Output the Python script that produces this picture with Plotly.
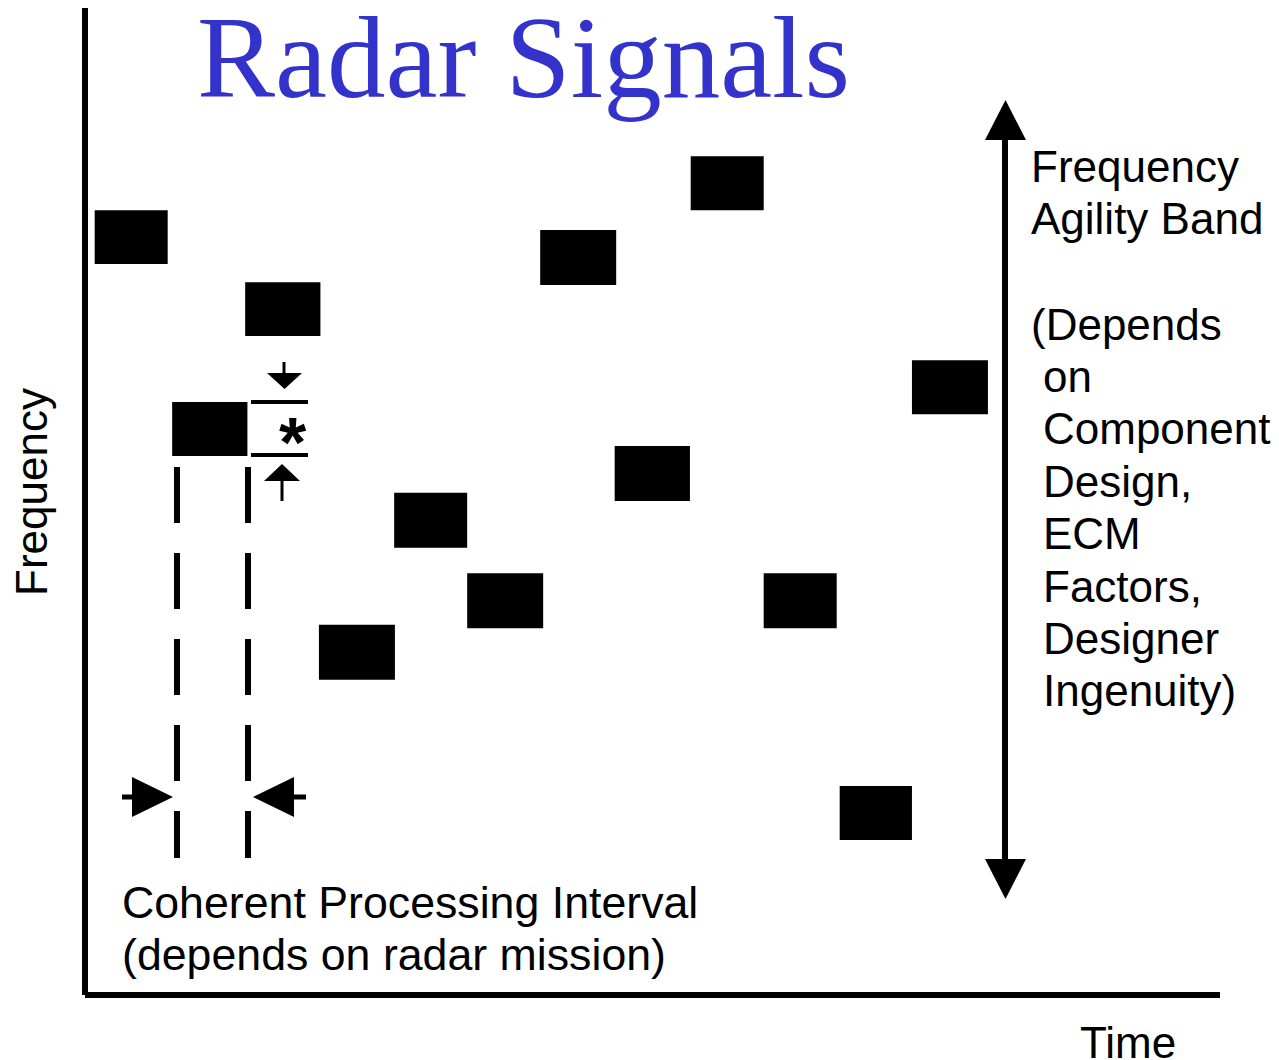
import plotly.graph_objects as go

# ---------------- data (time in pulse-width units, frequency in pulse-bandwidth units)
pulse_start = [0.13, 1.17, 2.15, 3.14, 4.15, 5.13, 6.11, 7.11, 8.13, 9.11, 10.13, 11.10]
pulse_duration = [0.98, 1.01, 1.01, 1.02, 0.98, 1.02, 1.02, 1.01, 0.98, 0.98, 0.97, 1.02]
pulse_freq_low = [13.29, 9.80, 11.98, 5.73, 8.13, 6.67, 12.91, 8.98, 14.27, 6.67, 2.82, 10.56]
pulse_bandwidth = [0.98, 0.98, 0.98, 1.0, 1.0, 1.0, 1.0, 1.0, 0.98, 1.0, 0.98, 0.98]

title_text = "Radar Signals"
x_label = "Time"
y_label = "Frequency"
band_label = ["Frequency", "Agility Band"]
band_note = ["(Depends", "on", "Component", "Design,", "ECM", "Factors,", "Designer", "Ingenuity)"]
cpi_label = ["Coherent Processing Interval", "(depends on radar mission)"]

# ---------------- layout geometry
W, H = 1279, 1060
T0_PX, PX_PER_T = 85.0, 74.5      # time origin (pixels) and pixels per time unit
F0_PX, PX_PER_F = 995.0, 55.0     # frequency origin (pixels) and pixels per freq unit


def X(px):
    return (px - T0_PX) / PX_PER_T


def Y(py):
    return (F0_PX - py) / PX_PER_F


BLACK = "#000000"
SANS = "Liberation Sans, Arial, sans-serif"

fig = go.Figure()

centers = [s + d / 2 for s, d in zip(pulse_start, pulse_duration)]
fig.add_trace(go.Bar(
    x=centers, y=pulse_bandwidth, base=pulse_freq_low, width=pulse_duration,
    marker=dict(color=BLACK, line=dict(width=0)), showlegend=False, hoverinfo="skip",
))

shapes = []


def line(x0, y0, x1, y1, w=6, dash="solid"):
    shapes.append(dict(type="line", xref="x", yref="y", x0=X(x0), y0=Y(y0), x1=X(x1), y1=Y(y1),
                       line=dict(color=BLACK, width=w, dash=dash), layer="above"))


def tri(pts):
    path = "M " + " L ".join(f"{X(a)},{Y(b)}" for a, b in pts) + " Z"
    shapes.append(dict(type="path", xref="x", yref="y", path=path, fillcolor=BLACK,
                       line=dict(width=0), layer="above"))


# axes
line(85, 8, 85, 995)
line(85, 995, 1220, 995)

# CPI dashed boundaries
for xd in (177, 248):
    line(xd, 467, xd, 858, w=6, dash="56px,30px")

# CPI arrows
line(122, 797, 140, 797, w=5)
tri([(132, 777), (173, 797), (132, 817)])
line(285, 797, 306, 797, w=5)
tri([(294, 777), (253, 797), (294, 817)])

# delta-f marker
line(251, 402, 308, 402, w=4)
line(251, 455, 308, 455, w=4)
line(284, 362, 284, 375, w=3)
tri([(267, 373), (302, 373), (284.5, 389)])
line(282, 478, 282, 501, w=3)
tri([(264, 481), (300, 481), (282, 464)])

# frequency agility band arrow
line(1005, 135, 1005, 865, w=6)
tri([(985, 140), (1026, 140), (1005.5, 100)])
tri([(985, 859), (1026, 859), (1005.5, 899)])

annotations = []


def text(s, xp, yp, size=44, family=SANS, color=BLACK, xanchor="left", angle=0, bold=False):
    annotations.append(dict(text=f"<b>{s}</b>" if bold else s, x=X(xp), y=Y(yp), xref="x", yref="y",
                            showarrow=False, xanchor=xanchor, yanchor="middle", textangle=angle,
                            font=dict(size=size, family=family, color=color)))


text(title_text, 195, 57, size=117, family="Liberation Serif, Times New Roman, serif", color="#3333CC")
for i, s in enumerate(band_label):
    text(s, 1029, 166 + 52.4 * i)
for i, s in enumerate(band_note):
    text(s, 1029 if i == 0 else 1041, 324 + 52.4 * i)
for i, s in enumerate(cpi_label):
    text(s, 120, 902 + 52 * i, size=44.7)
text(x_label, 1078, 1042)
text(y_label, 31, 492, xanchor="center", angle=-90)
text("*", 293, 443, size=70, xanchor="center", bold=True)

fig.update_layout(
    width=W, height=H, margin=dict(l=0, r=0, t=0, b=0),
    paper_bgcolor="white", plot_bgcolor="white",
    xaxis=dict(range=[X(0), X(W)], visible=False, fixedrange=True),
    yaxis=dict(range=[Y(H), Y(0)], visible=False, fixedrange=True),
    barmode="overlay", shapes=shapes, annotations=annotations, showlegend=False,
)

fig.write_html("out.html", config={"displayModeBar": False},
               post_script="document.body.style.margin='0px';")
